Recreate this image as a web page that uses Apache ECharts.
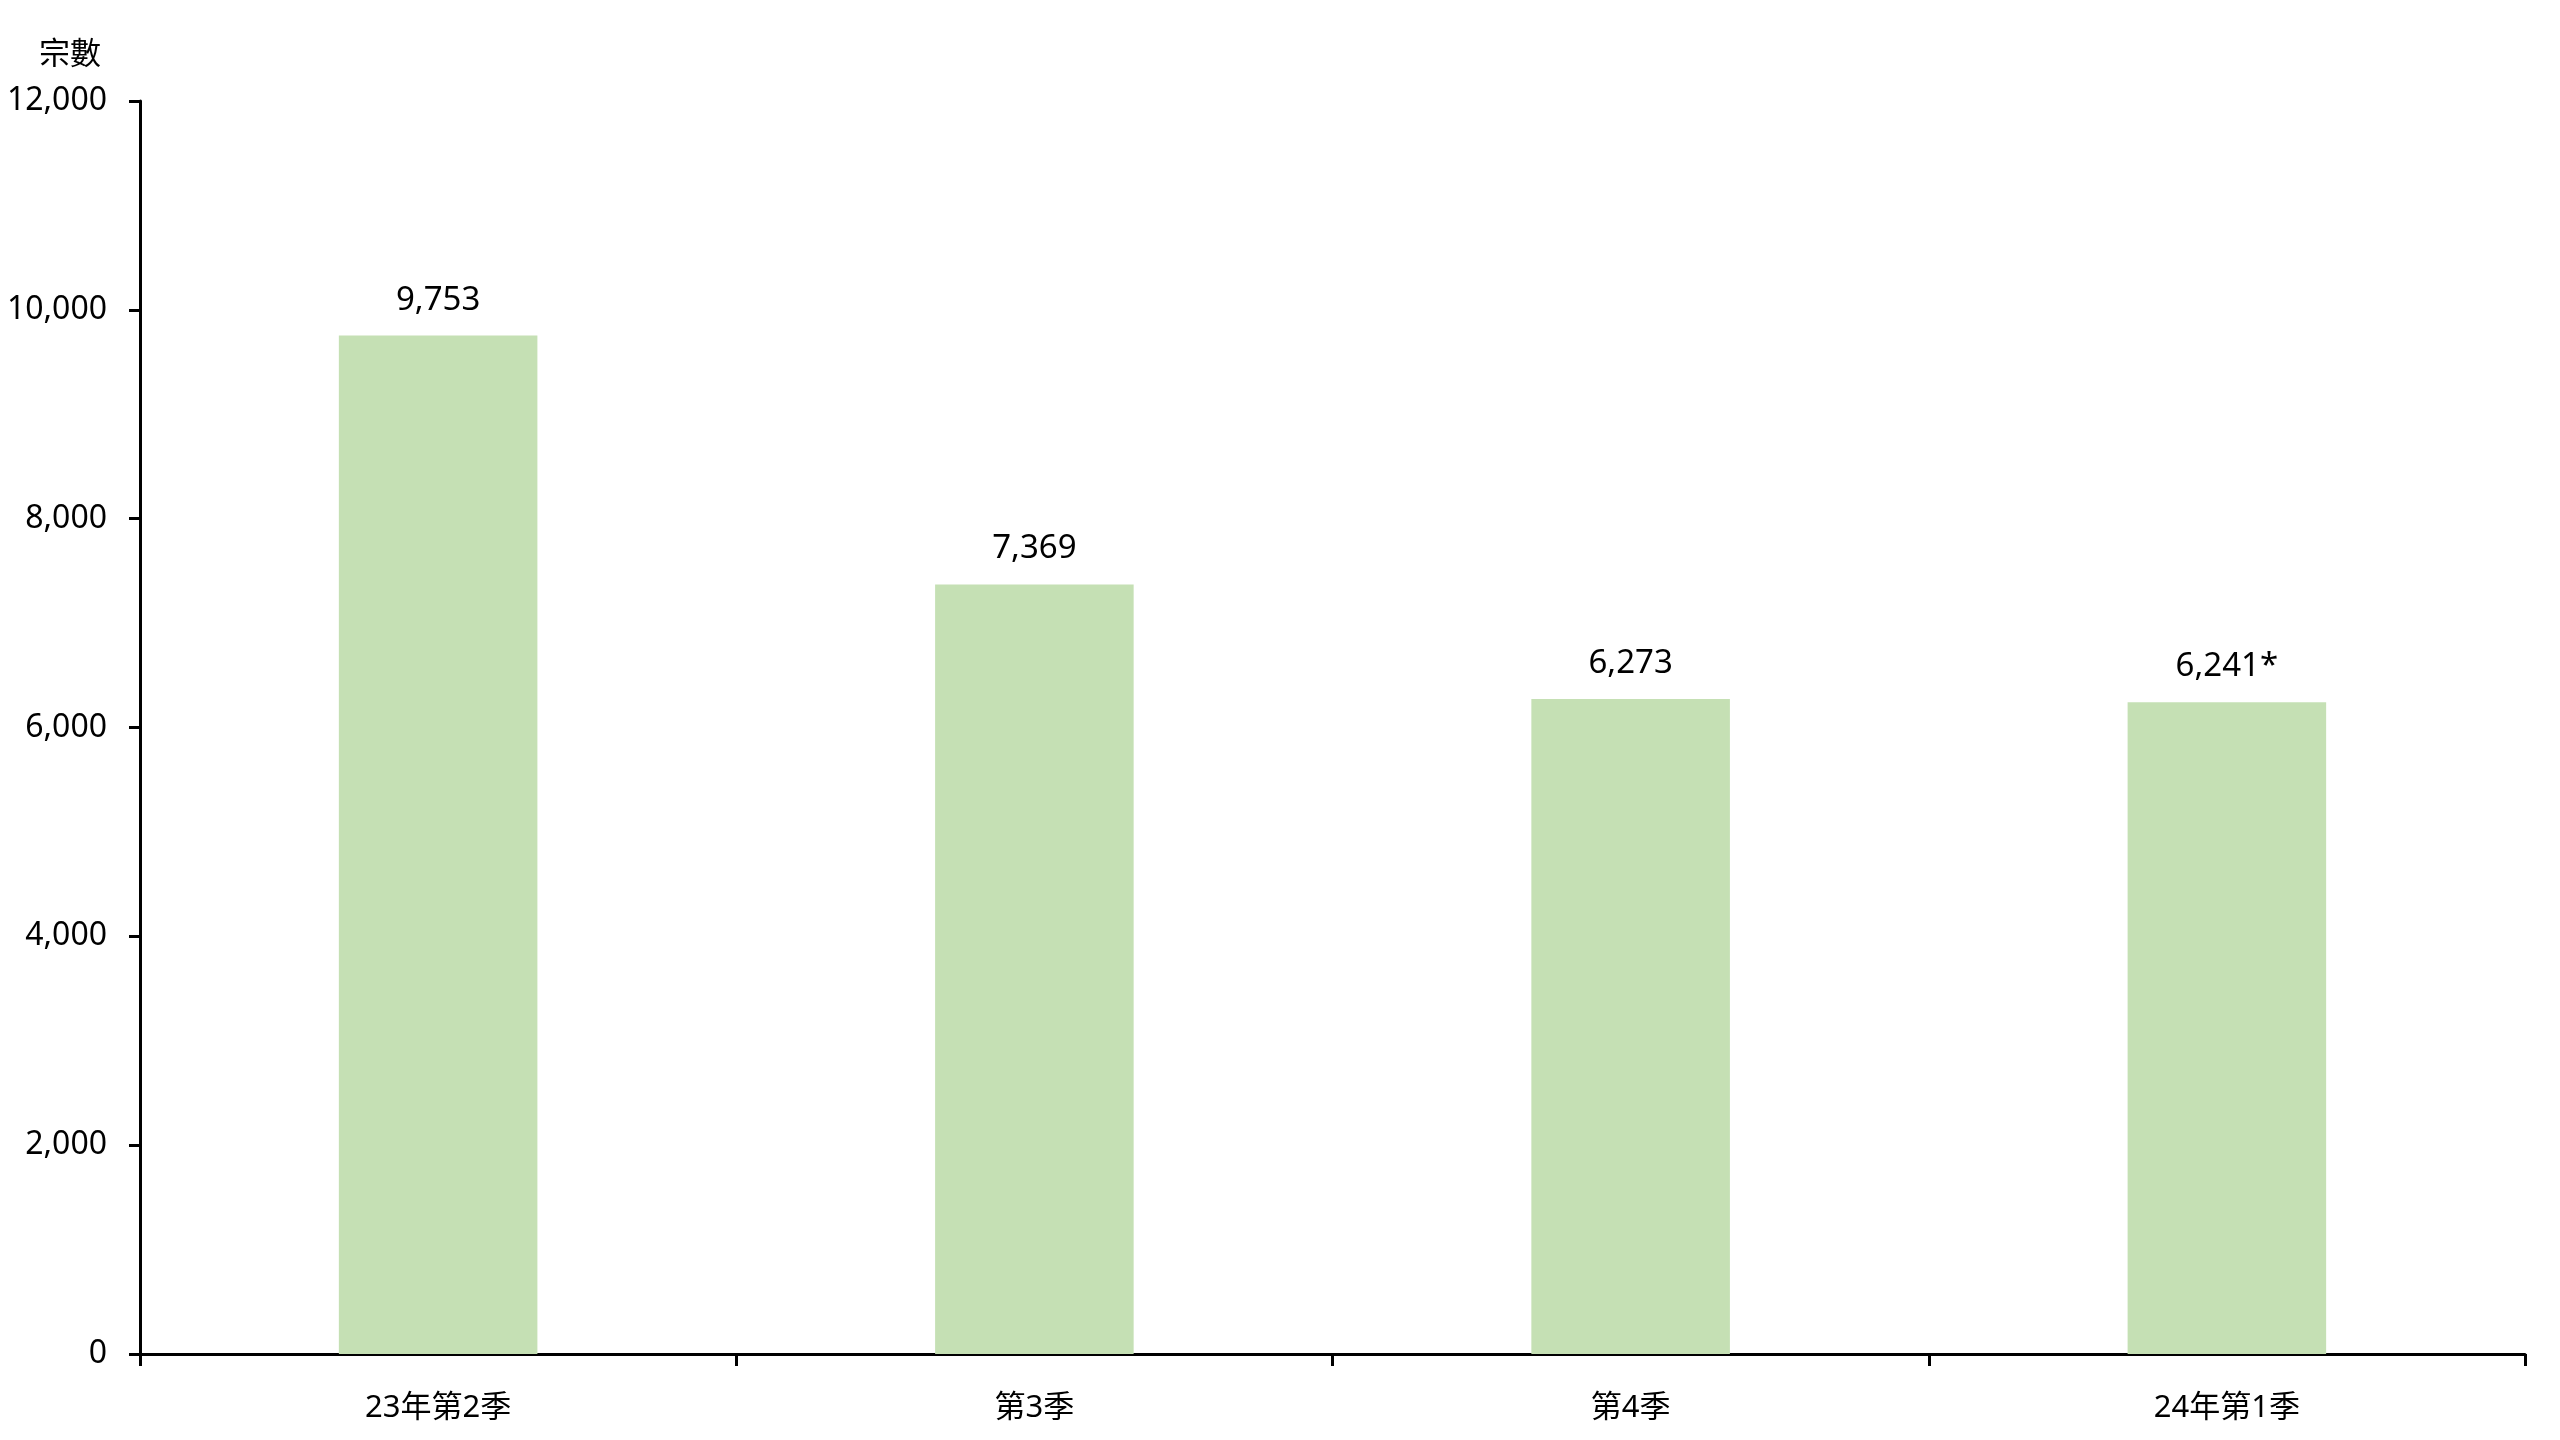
<!DOCTYPE html>
<html>
<head>
<meta charset="utf-8">
<script src="https://cdn.jsdelivr.net/npm/echarts@6/dist/echarts.min.js"></script>
<style>
html,body{margin:0;padding:0;background:#fff;}
#chart{width:2560px;height:1440px;}
</style>
</head>
<body>
<div id="chart"></div>
<script>
const categories = ['23年第2季', '第3季', '第4季', '24年第1季'];
const values = [9753, 7369, 6273, 6241];
const labelSuffix = ['', '', '', '*'];
const yMin = 0, yMax = 12000, yInterval = 2000;
const yAxisName = '宗數';

const FONT = '"Noto Sans", "Noto Sans CJK TC", sans-serif';
const chart = echarts.init(document.getElementById('chart'));
chart.setOption({
  animation: false,
  backgroundColor: '#ffffff',
  grid: { left: 140, right: 35, top: 101, bottom: 86, containLabel: false },
  xAxis: {
    type: 'category',
    data: categories,
    axisLine: { lineStyle: { color: '#000', width: 3 } },
    axisTick: { show: true, length: 12, lineStyle: { color: '#000', width: 3 } },
    axisLabel: { color: '#000', fontSize: 31, fontFamily: FONT, margin: 39 }
  },
  yAxis: {
    type: 'value',
    min: yMin, max: yMax, interval: yInterval,
    name: yAxisName,
    nameLocation: 'end',
    nameGap: 0,
    nameTextStyle: { color: '#000', fontSize: 31, fontFamily: FONT, align: 'center', padding: [0, 0, 30, -140] },
    axisLine: { show: true, lineStyle: { color: '#000', width: 3 } },
    axisTick: { show: true, length: 11, lineStyle: { color: '#000', width: 3 } },
    splitLine: { show: false },
    axisLabel: {
      color: '#000', fontSize: 32, fontFamily: FONT, margin: 33,
      formatter: v => v.toLocaleString('en-US')
    }
  },
  series: [{
    type: 'bar',
    data: values,
    barWidth: '33.3%',
    itemStyle: { color: '#C5E0B4' },
    label: {
      show: true,
      position: 'top',
      distance: 19,
      color: '#000',
      fontSize: 33,
      fontFamily: FONT,
      formatter: p => p.value.toLocaleString('en-US') + labelSuffix[p.dataIndex]
    }
  }]
});
</script>
</body>
</html>
